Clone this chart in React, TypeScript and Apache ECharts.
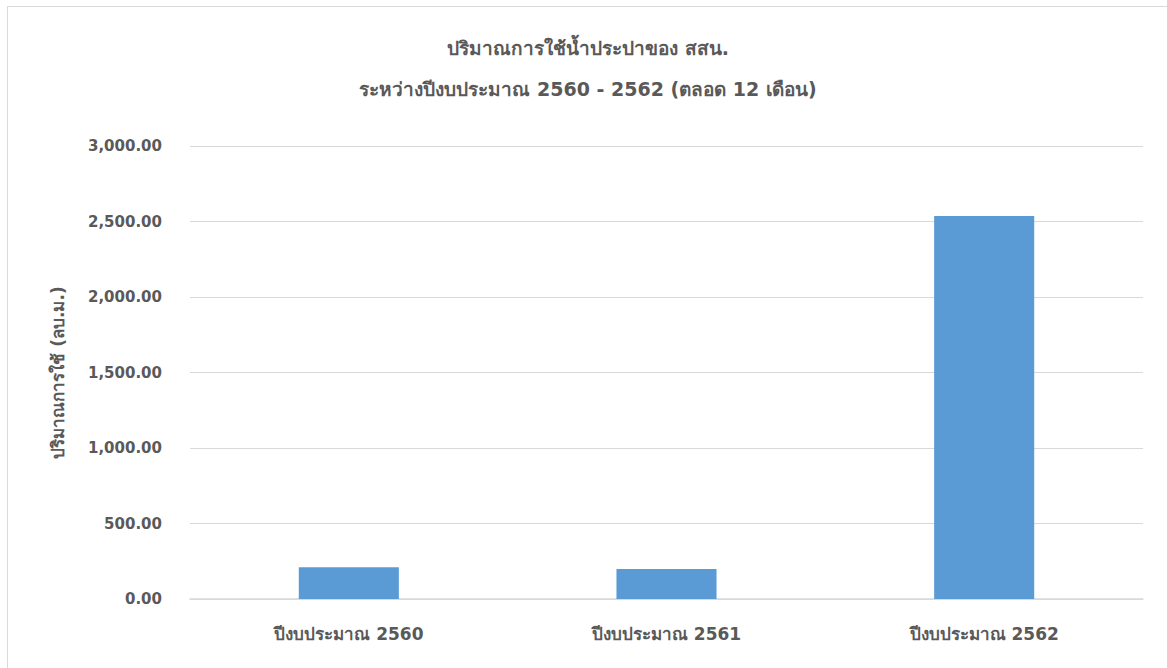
import React, { useEffect, useRef } from "react";
import * as echarts from "echarts";

const titleLines = ["ปริมาณการใช้น้ำประปาของ สสน.", "ระหว่างปีงบประมาณ 2560 - 2562 (ตลอด 12 เดือน)"];
const categories = ["ปีงบประมาณ 2560", "ปีงบประมาณ 2561", "ปีงบประมาณ 2562"];
const values = [210, 199, 2536];
const yAxisName = "ปริมาณการใช้ (ลบ.ม.)";
const yMin = 0;
const yMax = 3000;
const yInterval = 500;

const FONT = "'DejaVu Sans', 'Noto Sans', sans-serif";
const TEXT = "#595959";

export default function App() {
  const ref = useRef<HTMLDivElement>(null);
  useEffect(() => {
    if (!ref.current) return;
    const chart = echarts.init(ref.current, undefined, { renderer: "svg" });
    chart.setOption({
      animation: false,
      backgroundColor: "#ffffff",
      graphic: [
        {
          type: "text",
          x: 580,
          y: 41,
          style: { text: titleLines[0], font: `bold 19px ${FONT}`, fill: TEXT, align: "center", verticalAlign: "middle" },
        },
        {
          type: "text",
          x: 580,
          y: 82,
          style: { text: titleLines[1], font: `bold 19px ${FONT}`, fill: TEXT, align: "center", verticalAlign: "middle" },
        },
      ],
      grid: { left: 182, right: 65, top: 139, bottom: 108 },
      xAxis: {
        type: "category",
        data: categories,
        axisLine: { show: true, lineStyle: { color: "#d9d9d9", width: 1.5 } },
        axisTick: { show: false },
        axisLabel: { color: TEXT, fontFamily: FONT, fontSize: 17, fontWeight: "bold", margin: 26 },
      },
      yAxis: {
        type: "value",
        min: yMin,
        max: yMax,
        interval: yInterval,
        name: yAxisName,
        nameLocation: "middle",
        nameGap: 124,
        nameRotate: 90,
        nameTextStyle: { color: TEXT, fontFamily: FONT, fontSize: 17, fontWeight: "bold" },
        axisLine: { show: false },
        axisTick: { show: false },
        splitLine: { lineStyle: { color: "#d9d9d9", width: 1.2 } },
        axisLabel: {
          color: TEXT,
          fontFamily: FONT,
          fontSize: 15,
          fontWeight: "bold",
          margin: 28,
          formatter: (v: number) =>
            v.toLocaleString("en-US", { minimumFractionDigits: 2, maximumFractionDigits: 2 }),
        },
      },
      series: [
        {
          type: "bar",
          data: values,
          barWidth: "31.5%",
          itemStyle: { color: "#5b9bd5" },
        },
      ],
    });
    return () => chart.dispose();
  }, []);
  return (
    <div
      style={{
        position: "fixed",
        left: 7,
        top: 6,
        width: 1200,
        height: 700,
        border: "1px solid #d9d9d9",
        background: "#fff",
      }}
    >
      <div ref={ref} style={{ width: 1200, height: 700 }} />
    </div>
  );
}
